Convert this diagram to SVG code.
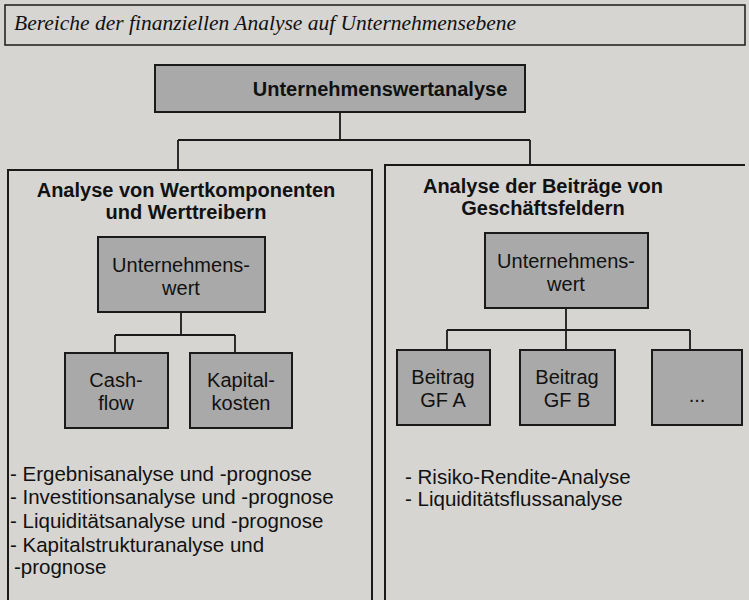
<svg xmlns="http://www.w3.org/2000/svg" width="749" height="600" viewBox="0 0 749 600">
<style>
.box{fill:#a9a9a9;stroke:#1a1a1a;stroke-width:2}
.pan{fill:none;stroke:#1a1a1a;stroke-width:2}
.c{fill:none;stroke:#1a1a1a;stroke-width:1.8}
text{font-family:"Liberation Sans",Arial,sans-serif;fill:#111}
.b{font-weight:bold;font-size:20px}
.n{font-size:20.5px}
.t{font-size:20px;text-anchor:middle}
</style>
<rect width="749" height="600" fill="#d6d5d2"/>
<rect x="5" y="5" width="740" height="40" fill="none" stroke="#1a1a1a" stroke-width="1.5"/>
<text x="14" y="30" style="font-family:'Liberation Serif',serif;font-style:italic;font-size:21.5px">Bereiche der finanziellen Analyse auf Unternehmensebene</text>
<g id="connectors">
<path class="c" d="M340 112V140M178 140H530M178 140V170M530 140V165"/>
<path class="c" d="M181 312V335M115 335H235M115 335V353M235 335V353"/>
<path class="c" d="M566 308V330M447 330H690M447 330V350M566 330V350M690 330V350"/>
</g>
<g id="top"><rect class="box" x="155" y="65" width="370" height="47"/><text class="b" x="380" y="96" text-anchor="middle">Unternehmenswertanalyse</text></g>
<g id="left-panel"><path class="pan" d="M8 600V170H372V600"/>
<text class="b" x="186" y="197" text-anchor="middle">Analyse von Wertkomponenten</text>
<text class="b" x="186" y="219" text-anchor="middle">und Werttreibern</text></g>
<g id="right-panel"><path class="pan" d="M385 600V165H745"/>
<text class="b" x="543" y="193" text-anchor="middle">Analyse der Beiträge von</text>
<text class="b" x="543" y="215" text-anchor="middle">Geschäftsfeldern</text></g>
<g id="uw-left"><rect class="box" x="98" y="237" width="167" height="75"/><text class="t" x="181" y="272">Unternehmens-</text><text class="t" x="181" y="295">wert</text></g>
<g id="cashflow"><rect class="box" x="65" y="353" width="103" height="75"/><text class="t" x="116" y="387">Cash-</text><text class="t" x="116" y="410">flow</text></g>
<g id="kapital"><rect class="box" x="190" y="353" width="102" height="75"/><text class="t" x="241" y="387">Kapital-</text><text class="t" x="241" y="410">kosten</text></g>
<g id="uw-right"><rect class="box" x="485" y="233" width="163" height="75"/><text class="t" x="566" y="268">Unternehmens-</text><text class="t" x="566" y="291">wert</text></g>
<g id="gfa"><rect class="box" x="397" y="350" width="93" height="75"/><text class="t" x="443" y="384">Beitrag</text><text class="t" x="443" y="407">GF A</text></g>
<g id="gfb"><rect class="box" x="520" y="350" width="95" height="75"/><text class="t" x="567" y="384">Beitrag</text><text class="t" x="567" y="407">GF B</text></g>
<g id="dots"><rect class="box" x="652" y="350" width="90" height="75"/><text class="t" x="697" y="402">...</text></g>
<g id="bullets-left">
<text class="n" x="10" y="481">- Ergebnisanalyse und -prognose</text>
<text class="n" x="10" y="504">- Investitionsanalyse und -prognose</text>
<text class="n" x="10" y="528">- Liquiditätsanalyse und -prognose</text>
<text class="n" x="10" y="552">- Kapitalstrukturanalyse und</text>
<text class="n" x="14" y="574">-prognose</text></g>
<g id="bullets-right">
<text class="n" x="405" y="484">- Risiko-Rendite-Analyse</text>
<text class="n" x="405" y="506">- Liquiditätsflussanalyse</text></g>
</svg>
